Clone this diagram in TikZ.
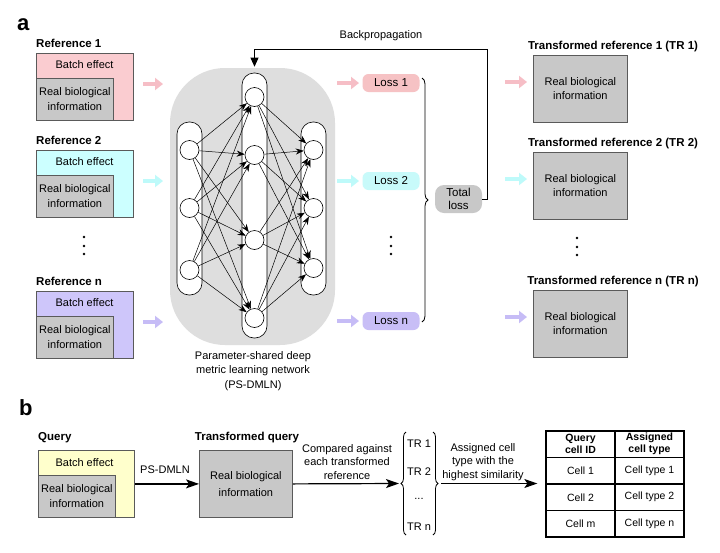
\documentclass[tikz,border=0pt]{standalone}
\usepackage{fontspec}
\setmainfont{Liberation Sans}
\usetikzlibrary{arrows.meta,decorations.pathreplacing,calc}
\definecolor{pinkc}{RGB}{250,204,208}
\definecolor{cyanc}{RGB}{204,255,255}
\definecolor{purpc}{RGB}{206,198,250}
\definecolor{greyc}{RGB}{200,200,200}
\definecolor{yelc}{RGB}{255,255,204}
\definecolor{bgc}{RGB}{222,222,222}
\definecolor{pinka}{RGB}{246,190,198}
\definecolor{cyana}{RGB}{190,250,250}
\definecolor{purpa}{RGB}{198,188,246}
\definecolor{lpink}{RGB}{246,194,196}
\definecolor{lcyan}{RGB}{200,250,250}
\definecolor{lpurp}{RGB}{200,190,246}
\definecolor{edgec}{RGB}{90,90,90}
\begin{document}
\begin{tikzpicture}[x=1pt,y=-1pt,
  txt/.style={font=\fontsize{11}{15}\selectfont, align=center, inner sep=0pt},
  lbl/.style={font=\fontsize{11.5}{14}\selectfont\bfseries, inner sep=0pt},
  outerbox/.style={draw=edgec, line width=0.8pt, minimum width=97pt, minimum height=67pt, inner sep=0pt, anchor=north west},
  innerbox/.style={draw=edgec, line width=0.8pt, fill=greyc, minimum width=77pt, minimum height=42pt, inner sep=0pt, anchor=south west, txt},
  trbox/.style={draw=edgec, line width=0.8pt, fill=greyc, minimum width=94pt, minimum height=67pt, inner sep=0pt, anchor=north west, font=\fontsize{11}{14}\selectfont, align=center},
  fat/.style={line width=4.5pt, -{Triangle[length=8pt,width=12pt]}},
  neuron/.style={circle, draw=black, fill=white, line width=0.6pt, minimum size=19pt, inner sep=0pt},
  column/.style={draw=black, fill=white, line width=0.6pt, rounded corners=12pt, minimum width=25pt, inner sep=0pt},
  syn/.style={line width=0.5pt, -{Stealth[length=8pt,width=6pt]}},
  lossbox/.style={rounded corners=6pt, minimum width=57pt, minimum height=18pt, inner sep=0pt, font=\fontsize{11.5}{14}\selectfont},
  bigarrow/.style={line width=1.2pt, -{Stealth[length=13pt,width=9pt,inset=3pt]}},
  cell/.style={draw=black, line width=1.3pt, minimum width=69pt, minimum height=26.5pt, inner sep=0pt, font=\fontsize{10.5}{12}\selectfont, align=center},
  dot/.style={circle, fill=black, inner sep=0pt, minimum size=2.6pt},
]
\useasboundingbox[fill=white] (0,0) rectangle (720,552);

% panel labels
\node[anchor=base west, inner sep=0pt, font=\fontsize{22}{24}\selectfont\bfseries] (pa) at (17,30) {a};
\node[anchor=base west, inner sep=0pt, font=\fontsize{22}{24}\selectfont\bfseries] (pb) at (19,415) {b};

% references
\foreach \i/\t/\c/\a/\lab in {1/53/pinkc/pinka/Reference 1, 2/150/cyanc/cyana/Reference 2, n/291/purpc/purpa/Reference n} {
  \node[lbl, anchor=base west] (rl\i) at (36,\t-6) {\lab};
  \node[outerbox, fill=\c] (r\i) at (36,\t) {};
  \node[innerbox] (ri\i) at (r\i.south west) {Real biological\\information};
  \node[txt] (rb\i) at (84.5,\t+12) {Batch effect};
  \coordinate (ra\i) at (143,\t+31);
  \coordinate (rb\i) at (163,\t+31);
  \draw[fat, draw=\a, fill=\a] (ra\i) -- (rb\i);
}
\node[dot] (d1) at (84,237) {};
\node[dot] (d2) at (84,246) {};
\node[dot] (d3) at (84,254) {};

% network
\node[fill=bgc, rounded corners=55pt, minimum width=165pt, minimum height=277pt, inner sep=0pt] (net) at (252.5,206.5) {};
\node[column, minimum height=173pt] (colL) at (189.5,208.5) {};
\node[column, minimum height=265pt] (colM) at (254.5,205.5) {};
\node[column, minimum height=173pt] (colR) at (313.5,208.5) {};
\foreach \j/\y in {1/150,2/208,3/270} \node[neuron] (L\j) at (189.5,\y) {};
\foreach \j/\y in {1/97,2/155,3/240,4/318} \node[neuron] (M\j) at (254.5,\y) {};
\foreach \j/\y in {1/150,2/208,3/268} \node[neuron] (R\j) at (313.5,\y) {};
\foreach \a in {1,2,3} \foreach \b in {1,2,3,4} \draw[syn] (L\a) -- (M\b);
\foreach \a in {1,2,3,4} \foreach \b in {1,2,3} \draw[syn] (M\a) -- (R\b);
\node[txt, font=\fontsize{11}{14.5}\selectfont] (cap) at (253,371) {Parameter-shared deep\\metric learning network\\(PS-DMLN)};

% losses
\foreach \i/\y/\c/\a in {1/83/lpink/pinka, 2/181/lcyan/cyana, n/321/lpurp/purpa} {
  \node[lossbox, fill=\c] (loss\i) at (391,\y) {Loss \i};
  \coordinate (la\i) at (337,\y);
  \coordinate (lb\i) at (359,\y);
  \draw[fat, draw=\a, fill=\a] (la\i) -- (lb\i);
}
\node[dot] (d4) at (391,237) {};
\node[dot] (d5) at (391,246) {};
\node[dot] (d6) at (391,254) {};
\coordinate (brT) at (422,78);
\coordinate (brB) at (422,322);
\draw[decorate, decoration={brace, amplitude=6pt}, line width=0.8pt] (brT) -- (brB);
\node[fill=greyc, rounded corners=9pt, minimum width=47pt, minimum height=28pt, inner sep=0pt, align=center, font=\fontsize{11.5}{13}\selectfont] (tl) at (458.5,199) {Total\\loss};

% backpropagation
\coordinate (bpA) at (487,49);
\draw[line width=0.8pt, -{Triangle[length=9pt,width=8pt]}] (tl.east) -| (bpA) -| ([yshift=6pt]colM.north);
\node[txt] (bpl) at (381,36) {Backpropagation};

% transformed references
\foreach \i/\t/\a/\lab in {1/55/pinka/Transformed reference 1 (TR 1), 2/152/cyana/Transformed reference 2 (TR 2), n/290/purpa/Transformed reference n (TR n)} {
  \node[lbl, anchor=base] (tll\i) at (613,\t-6) {\lab};
  \node[trbox] (tr\i) at (533,\t) {Real biological\\information};
  \coordinate (ta\i) at (505,\t+27);
  \coordinate (tb\i) at (527,\t+27);
  \draw[fat, draw=\a, fill=\a] (ta\i) -- (tb\i);
}
\node[dot] (d7) at (577,238) {};
\node[dot] (d8) at (577,247) {};
\node[dot] (d9) at (577,255) {};

% panel b
\node[lbl, anchor=base west] (ql) at (38,440) {Query};
\node[outerbox, fill=yelc, minimum width=96pt] (q) at (38,450) {};
\node[innerbox] (qi) at (q.south west) {Real biological\\information};
\node[txt] (qb) at (84.5,463) {Batch effect};

\node[lbl, anchor=base] (tql) at (247,440) {Transformed query};
\node[trbox, minimum width=93pt, font=\fontsize{11}{17.5}\selectfont] (tq) at (199,450) {Real biological\\information};
\draw[bigarrow] (q.east) -- (tq.west);
\node[txt] (psl) at (165,470) {PS-DMLN};

\coordinate (bLtip) at (399,483.5);
\coordinate (bRtip) at (441,483.5);
\draw[bigarrow] (tq.east) -- (bLtip);
\node[txt, font=\fontsize{11}{13.5}\selectfont] (cmp) at (347,462) {Compared against\\each transformed\\reference};

\coordinate (bL1) at (406,535);
\coordinate (bL2) at (406,432);
\coordinate (bR1) at (433,432);
\coordinate (bR2) at (433,535);
\draw[decorate, decoration={brace, amplitude=5pt}, line width=0.8pt] (bL1) -- (bL2);
\draw[decorate, decoration={brace, amplitude=5pt}, line width=0.8pt] (bR1) -- (bR2);
\node[txt] (t1) at (419,444) {TR 1};
\node[txt] (t2) at (419,472) {TR 2};
\node[txt] (t3) at (419,499) {...};
\node[txt] (t4) at (419,527) {TR n};

% table
\node[cell] (c11) at (580.5,444.25) {\bfseries Query\\\bfseries cell ID};
\node[cell] (c12) at (649.5,444.25) {\bfseries Assigned\\\bfseries cell type};
\node[cell] (c21) at (580.5,470.75) {Cell 1};
\node[cell] (c22) at (649.5,470.75) {Cell type 1};
\node[cell] (c31) at (580.5,497.25) {Cell 2};
\node[cell] (c32) at (649.5,497.25) {Cell type 2};
\node[cell] (c41) at (580.5,523.75) {Cell m};
\node[cell] (c42) at (649.5,523.75) {Cell type n};
\draw[bigarrow, shorten >=8pt] (bRtip) -- (c21.south west |- bRtip);
\node[txt, font=\fontsize{11}{13.5}\selectfont] (asg) at (483,462) {Assigned cell\\type with the\\highest similarity};
\end{tikzpicture}
\end{document}
